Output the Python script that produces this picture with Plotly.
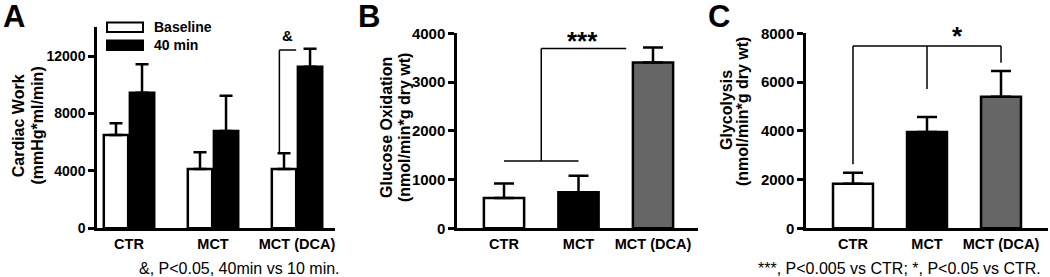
import plotly.graph_objects as go

W, H = 1050, 277
FONT = "Arial, Liberation Sans, sans-serif"

# ---------------- data ----------------
groups = ["CTR", "MCT", "MCT (DCA)"]

# Panel A: cardiac work
work_baseline = [6500, 4130, 4130]
work_baseline_err = [810, 1160, 1090]
work_40min = [9440, 6780, 11250]
work_40min_err = [1980, 2460, 1250]
work_ticks = [0, 4000, 8000, 12000]

# Panel B: glucose oxidation
gox = [620, 740, 3400]
gox_err = [300, 340, 310]
gox_ticks = [0, 1000, 2000, 3000, 4000]

# Panel C: glycolysis
gly = [1830, 3950, 5400]
gly_err = [450, 620, 1050]
gly_ticks = [0, 2000, 4000, 6000, 8000]

bar_colors = ["white", "black", "#666666"]


def px(x):
    return x / W


def py(y):
    return 1 - y / H


fig = go.Figure()

ebar = dict(type="data", symmetric=False, arrayminus=[0, 0, 0],
            color="black", thickness=2.5)

# Panel A
fig.add_trace(go.Bar(
    x=groups, y=work_baseline, name="Baseline", xaxis="x", yaxis="y",
    marker=dict(color="white", line=dict(color="black", width=2.5)),
    width=0.29, offset=-0.30,
    error_y=dict(ebar, array=work_baseline_err, width=6.5),
    showlegend=False))
fig.add_trace(go.Bar(
    x=groups, y=work_40min, name="40 min", xaxis="x", yaxis="y",
    marker=dict(color="black", line=dict(color="black", width=2.5)),
    width=0.29, offset=0.01,
    error_y=dict(ebar, array=work_40min_err, width=6.5),
    showlegend=False))

# Panel B
fig.add_trace(go.Bar(
    x=groups, y=gox, xaxis="x2", yaxis="y2", width=0.54,
    marker=dict(color=bar_colors, line=dict(color="black", width=2.5)),
    error_y=dict(ebar, array=gox_err, width=10),
    showlegend=False))

# Panel C
fig.add_trace(go.Bar(
    x=groups, y=gly, xaxis="x3", yaxis="y3", width=0.54,
    marker=dict(color=bar_colors, line=dict(color="black", width=2.5)),
    error_y=dict(ebar, array=gly_err, width=10),
    showlegend=False))

xcommon = dict(showline=True, linecolor="black", linewidth=2.5, automargin=False,
               ticks="outside", ticklen=1, tickcolor="rgba(0,0,0,0)",
               tickfont=dict(family=FONT, size=14.5, color="black", weight="bold"),
               showgrid=False, zeroline=False, fixedrange=True)
ycommon = dict(showline=True, linecolor="black", linewidth=2.5, automargin=False,
               ticks="outside", ticklen=6, tickwidth=2.5, tickcolor="black",
               tickfont=dict(family=FONT, size=15, color="black", weight="bold"),
               showgrid=False, zeroline=False, fixedrange=True)


def labels(vals):
    return ["<b>%d</b>" % v for v in vals]


fig.update_layout(
    width=W, height=H,
    margin=dict(l=0, r=0, t=0, b=0, autoexpand=False),
    paper_bgcolor="white", plot_bgcolor="white",
    barmode="group",
    xaxis=dict(xcommon, domain=[px(97), px(335)], range=[-0.381, 2.452], anchor="y"),
    yaxis=dict(ycommon, domain=[py(228.3), py(27.3)], range=[0, 14000],
               tickvals=work_ticks, ticktext=labels(work_ticks), anchor="x",
               tickfont=dict(family=FONT, size=14, color="black", weight="bold")),
    xaxis2=dict(xcommon, domain=[px(457), px(698)], range=[-0.631, 2.604], anchor="y2"),
    yaxis2=dict(ycommon, domain=[py(228.3), py(33.3)], range=[0, 4000],
                tickvals=gox_ticks, ticktext=labels(gox_ticks), anchor="x2"),
    xaxis3=dict(xcommon, domain=[px(806), px(1048)], range=[-0.635, 2.635], anchor="y3"),
    yaxis3=dict(ycommon, domain=[py(228.3), py(33.3)], range=[0, 8000],
                tickvals=gly_ticks, ticktext=labels(gly_ticks), anchor="x3"),
)

shapes = []
LW = 1.5
# Panel A significance bracket
shapes.append(dict(type="line", xref="x", yref="y", x0=1.79, x1=1.79, y0=5300, y1=12420,
                   line=dict(color="black", width=LW)))
shapes.append(dict(type="line", xref="x", yref="y", x0=1.79, x1=1.99, y0=12420, y1=12420,
                   line=dict(color="black", width=LW)))
# Panel B bracket
shapes.append(dict(type="line", xref="x2", yref="y2", x0=0, x1=1, y0=1380, y1=1380,
                   line=dict(color="black", width=LW)))
shapes.append(dict(type="line", xref="x2", yref="y2", x0=0.5, x1=0.5, y0=1380, y1=3690,
                   line=dict(color="black", width=LW)))
shapes.append(dict(type="line", xref="x2", yref="y2", x0=0.5, x1=1.64, y0=3690, y1=3690,
                   line=dict(color="black", width=LW)))
# Panel C bracket
shapes.append(dict(type="line", xref="x3", yref="y3", x0=0, x1=2, y0=7480, y1=7480,
                   line=dict(color="black", width=LW)))
shapes.append(dict(type="line", xref="x3", yref="y3", x0=0, x1=0, y0=2625, y1=7480,
                   line=dict(color="black", width=LW)))
shapes.append(dict(type="line", xref="x3", yref="y3", x0=1, x1=1, y0=5715, y1=7480,
                   line=dict(color="black", width=LW)))
shapes.append(dict(type="line", xref="x3", yref="y3", x0=2, x1=2, y0=6795, y1=7480,
                   line=dict(color="black", width=LW)))
# Legend boxes (panel A)
shapes.append(dict(type="rect", xref="paper", yref="paper", x0=px(107), x1=px(143),
                   y0=py(32), y1=py(22.5), fillcolor="white",
                   line=dict(color="black", width=2)))
shapes.append(dict(type="rect", xref="paper", yref="paper", x0=px(107), x1=px(143),
                   y0=py(50), y1=py(40.5), fillcolor="black",
                   line=dict(color="black", width=2)))
fig.update_layout(shapes=shapes)

ann = []


def text(x, y, s, size, bold=True, xanchor="center", yanchor="middle", angle=0):
    ann.append(dict(x=px(x), y=py(y), xref="paper", yref="paper", text=s,
                    showarrow=False, xanchor=xanchor, yanchor=yanchor, textangle=angle,
                    font=dict(family=FONT, size=size, color="black",
                              weight="bold" if bold else "normal")))


# panel letters
text(1, 16, "A", 31, xanchor="left")
text(356, 16, "B", 31, xanchor="left")
text(706, 16, "C", 31, xanchor="left")
# legend labels
text(152, 27.3, "Baseline", 14, xanchor="left")
text(152, 45, "40 min", 14, xanchor="left")
# y titles
text(18.8, 125.5, "Cardiac Work", 16, angle=-90)
text(36.5, 126, "(mmHg*ml/min)", 16, angle=-90)
text(386, 128, "Glucose Oxidation", 16, angle=-90)
text(404, 128, "(nmol/min*g dry wt)", 16, angle=-90)
text(726, 110, "Glycolysis", 16, angle=-90)
text(743, 112, "(nmol/min*g dry wt)", 16, angle=-90)
# significance marks
text(287, 35, "&", 15)
text(582, 41.4, "***", 26)
text(957, 36.4, "*", 26)
# footnotes
text(239, 268, "&, P<0.05, 40min vs 10 min.", 16, bold=False)
text(1043, 268, "***, P<0.005 vs CTR; *, P<0.05 vs CTR.", 16, bold=False, xanchor="right")

fig.update_layout(annotations=ann)

fig.write_html("out.html", config={"displayModeBar": False},
               post_script="document.body.style.margin='0';document.body.style.overflow='hidden';")
